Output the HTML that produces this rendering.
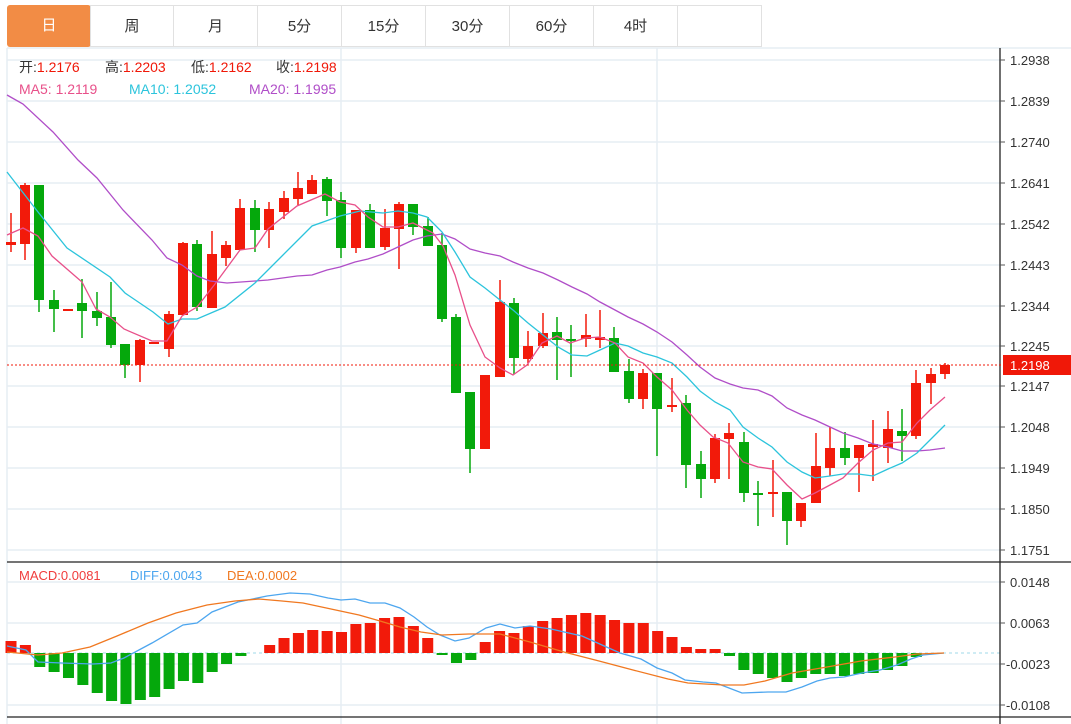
<!DOCTYPE html>
<html><head><meta charset="utf-8"><style>
body{margin:0;background:#fff;width:1071px;height:724px;overflow:hidden;font-family:"Liberation Sans","Noto Sans CJK SC",sans-serif;}
.tabs{position:absolute;left:7px;top:5px;height:42px;}
.tab{position:absolute;top:0;height:42px;width:84px;border:1px solid #e1e1e1;border-left:none;box-sizing:border-box;text-align:center;line-height:42px;font-size:15px;color:#333;}
.tab.on{background:#f28c45;color:#fff;border:none;border-radius:3px;}
</style></head><body>
<div class="tabs">
<div class="tab on" style="left:0">日</div>
<div class="tab" style="left:83px;border-left:1px solid #e1e1e1">周</div>
<div class="tab" style="left:167px">月</div>
<div class="tab" style="left:251px">5分</div>
<div class="tab" style="left:335px">15分</div>
<div class="tab" style="left:419px">30分</div>
<div class="tab" style="left:503px">60分</div>
<div class="tab" style="left:587px">4时</div>
<div class="tab" style="left:671px;width:84px"></div>
</div>
<svg width="1071" height="724" style="position:absolute;left:0;top:0" font-family="Liberation Sans, Noto Sans CJK SC, sans-serif">
<g stroke="#e6edf3" stroke-width="1.5">
<line x1="7" y1="48" x2="1071" y2="48"/>
<line x1="7" y1="60" x2="1000" y2="60"/><line x1="7" y1="101" x2="1000" y2="101"/><line x1="7" y1="142" x2="1000" y2="142"/><line x1="7" y1="183" x2="1000" y2="183"/><line x1="7" y1="224" x2="1000" y2="224"/><line x1="7" y1="265" x2="1000" y2="265"/><line x1="7" y1="306" x2="1000" y2="306"/><line x1="7" y1="346" x2="1000" y2="346"/><line x1="7" y1="386" x2="1000" y2="386"/><line x1="7" y1="427" x2="1000" y2="427"/><line x1="7" y1="468" x2="1000" y2="468"/><line x1="7" y1="509" x2="1000" y2="509"/><line x1="7" y1="550" x2="1000" y2="550"/>
<line x1="7" y1="582" x2="1000" y2="582"/><line x1="7" y1="623" x2="1000" y2="623"/><line x1="7" y1="664" x2="1000" y2="664"/><line x1="7" y1="705" x2="1000" y2="705"/>
<line x1="341" y1="48" x2="341" y2="724"/><line x1="657" y1="48" x2="657" y2="724"/>
<line x1="7" y1="48" x2="7" y2="724"/>
</g>
<line x1="7" y1="653" x2="1000" y2="653" stroke="#9fd8ea" stroke-dasharray="3,3"/>
<g stroke="#222" stroke-width="1.3">
<line x1="1000" y1="48" x2="1000" y2="724"/>
<line x1="7" y1="562" x2="1071" y2="562"/>
<line x1="7" y1="717" x2="1071" y2="717"/>
</g>
<g id="c"></g>
<g font-size="13" fill="#333">
<g stroke="#555"><line x1="1000" x2="1005" y1="60" y2="60"/><line x1="1000" x2="1005" y1="101" y2="101"/><line x1="1000" x2="1005" y1="142" y2="142"/><line x1="1000" x2="1005" y1="183" y2="183"/><line x1="1000" x2="1005" y1="224" y2="224"/><line x1="1000" x2="1005" y1="265" y2="265"/><line x1="1000" x2="1005" y1="306" y2="306"/><line x1="1000" x2="1005" y1="346" y2="346"/><line x1="1000" x2="1005" y1="386" y2="386"/><line x1="1000" x2="1005" y1="427" y2="427"/><line x1="1000" x2="1005" y1="468" y2="468"/><line x1="1000" x2="1005" y1="509" y2="509"/><line x1="1000" x2="1005" y1="550" y2="550"/><line x1="1000" x2="1005" y1="582" y2="582"/><line x1="1000" x2="1005" y1="623" y2="623"/><line x1="1000" x2="1005" y1="664" y2="664"/><line x1="1000" x2="1005" y1="705" y2="705"/></g>
<text x="1010" y="65">1.2938</text><text x="1010" y="106">1.2839</text><text x="1010" y="147">1.2740</text><text x="1010" y="188">1.2641</text><text x="1010" y="229">1.2542</text><text x="1010" y="270">1.2443</text><text x="1010" y="311">1.2344</text><text x="1010" y="351">1.2245</text><text x="1010" y="391">1.2147</text><text x="1010" y="432">1.2048</text><text x="1010" y="473">1.1949</text><text x="1010" y="514">1.1850</text><text x="1010" y="555">1.1751</text>
<text x="1010" y="587">0.0148</text><text x="1010" y="628">0.0063</text><text x="1006" y="669">-0.0023</text><text x="1006" y="710">-0.0108</text>
</g>
<line x1="7" y1="365" x2="1003" y2="365" stroke="#f01808" stroke-dasharray="2,2"/>
<rect x="1003" y="355" width="68" height="20" fill="#f01808"/>
<text x="1010" y="370" font-size="13" fill="#fff">1.2198</text>
<g font-size="14">
<text x="19" y="72" fill="#333">开:<tspan fill="#f01808">1.2176</tspan></text>
<text x="105" y="72" fill="#333">高:<tspan fill="#f01808">1.2203</tspan></text>
<text x="191" y="72" fill="#333">低:<tspan fill="#f01808">1.2162</tspan></text>
<text x="276" y="72" fill="#333">收:<tspan fill="#f01808">1.2198</tspan></text>
<text x="19" y="94" fill="#e8508a">MA5: 1.2119</text>
<text x="129" y="94" fill="#2cc4dc">MA10: 1.2052</text>
<text x="249" y="94" fill="#b04ec8">MA20: 1.1995</text>
</g>
<g font-size="13">
<text x="19" y="580" fill="#f03c3c">MACD:0.0081</text>
<text x="130" y="580" fill="#4da6ef">DIFF:0.0043</text>
<text x="227" y="580" fill="#f07820">DEA:0.0002</text>
</g>
</svg>
<script>
var C=[[11,242,245,213,252,1],[25,185,244,183,260,1],[39,185,300,185,312,0],[54,300,309,290,332,0],[68,309,311,309,311,1],[82,303,311,279,338,0],[97,311,318,292,326,0],[111,317,345,282,348,0],[125,344,365,344,378,0],[140,340,365,339,382,1],[154,342,343,342,343,1],[169,314,349,311,357,1],[183,243,315,242,315,1],[197,244,307,240,311,0],[212,254,308,231,308,1],[226,245,258,241,266,1],[240,208,250,199,250,1],[255,208,230,200,252,0],[269,209,230,202,248,1],[284,198,212,191,219,1],[298,188,199,172,205,1],[312,180,194,175,194,1],[327,179,201,177,216,0],[341,200,248,192,258,0],[356,210,248,210,253,1],[370,210,248,204,248,0],[385,228,247,209,250,1],[399,204,229,202,269,1],[413,204,227,204,235,0],[428,226,246,217,246,0],[442,245,319,233,322,0],[456,317,393,314,393,0],[470,392,449,392,473,0],[485,375,449,375,449,1],[500,302,377,280,377,1],[514,303,358,298,374,0],[528,346,359,331,363,1],[543,333,346,313,348,1],[557,332,340,317,380,0],[571,339,341,325,377,0],[586,335,339,314,347,1],[600,337,340,310,348,1],[614,338,372,327,372,0],[629,371,399,359,403,0],[643,373,399,369,409,1],[657,373,409,373,456,0],[672,405,407,378,412,1],[686,403,465,395,488,0],[701,464,479,451,498,0],[715,438,479,434,483,1],[729,433,439,423,479,1],[744,442,493,432,502,0],[758,493,494,481,526,0],[773,492,494,460,517,1],[787,492,521,492,545,0],[801,503,521,503,527,1],[816,466,503,433,503,1],[830,448,468,427,476,1],[845,448,458,432,465,0],[859,445,458,445,492,1],[873,444,447,420,481,1],[888,429,448,411,463,1],[902,431,436,409,461,0],[916,383,436,370,439,1],[931,374,383,368,404,1],[945,365,374,363,379,1]];
var H=[641,645,667,672,678,685,693,701,704,700,697,689,681,683,672,664,656,653,645,638,633,630,631,632,624,623,618,617,626,638,655,663,660,642,631,633,626,621,618,615,613,615,620,623,623,631,637,647,649,649,656,670,674,678,682,678,674,674,676,674,673,670,666,657,654,653];
var MA5="7,235 23,228 38,236 52,256 82,282 96,309 110,317 124,329 152,341 167,341 182,316 197,307 215,284 240,250 255,248 268,229 297,206 325,194 340,202 355,205 368,217 383,227 398,227 413,223 433,233 443,246 455,275 470,325 485,357 500,368 513,375 527,365 542,343 557,336 570,343 585,338 600,337 615,343 628,357 643,363 657,377 672,390 687,410 700,425 713,437 728,443 743,462 758,467 772,469 787,485 802,499 815,493 830,485 843,478 858,463 873,450 888,443 902,442 917,423 930,410 945,397";
var MA10="7,172 38,212 67,248 110,277 125,293 153,312 168,324 182,319 197,319 225,307 255,283 283,255 312,226 340,216 360,211 383,213 398,211 413,213 427,217 442,232 455,252 470,277 485,288 500,300 513,310 528,323 543,335 558,347 572,355 587,356 600,350 615,343 628,346 643,353 657,357 672,363 687,377 700,391 715,402 730,410 743,427 758,438 772,447 787,462 802,472 815,478 830,476 843,474 858,474 873,476 888,469 902,463 917,453 930,440 945,425";
var MA20="7,95 23,104 53,132 78,160 97,178 123,210 152,240 167,258 182,265 197,276 210,281 227,283 255,281 268,280 297,276 312,275 327,270 340,267 355,262 368,259 383,254 398,247 413,240 427,236 442,234 455,239 470,249 485,253 500,256 513,262 528,268 543,273 558,280 572,287 587,294 600,302 615,310 628,317 643,324 657,332 672,342 687,355 700,367 715,378 730,384 743,388 758,390 772,396 787,408 802,415 815,420 830,427 843,433 858,438 873,444 888,447 902,451 917,451 930,450 945,448";
var DIFF="7,646 26,650 38,662 62,663 93,664 111,663 124,658 152,643 183,625 197,623 212,612 238,602 267,596 290,593 310,594 328,598 341,600 355,599 370,603 385,603 400,608 414,617 427,627 440,635 455,641 469,638 486,628 500,624 515,628 530,626 551,629 582,636 602,645 620,653 641,659 657,668 672,673 685,680 703,682 716,683 729,688 742,693 768,692 786,692 802,687 817,681 830,678 844,677 862,673 880,670 897,665 911,659 923,655 944,653";
var DEA="7,652 38,655 62,653 90,647 117,636 148,623 176,613 207,605 235,601 259,599 282,601 303,603 331,609 359,615 380,621 400,627 421,632 442,635 469,634 500,634 530,642 564,652 599,661 633,670 668,679 688,683 723,685 744,685 765,681 792,673 827,667 861,661 895,657 917,654 944,653";
var s="";
for(var i=0;i<C.length;i++){var c=C[i],col=c[5]?"#f21a0a":"#05a80c";
s+='<line x1="'+c[0]+'" x2="'+c[0]+'" y1="'+c[3]+'" y2="'+c[4]+'" stroke="'+col+'" stroke-width="1.5"/>';
var h=Math.max(2,c[2]-c[1]);s+='<rect x="'+(c[0]-5)+'" y="'+c[1]+'" width="10" height="'+h+'" fill="'+col+'"/>';}
for(i=0;i<H.length;i++){var x=11+14.37*i,y=H[i];if(Math.abs(y-653)<1)continue;var col=y<653?"#f21a0a":"#05a80c";
s+='<rect x="'+(x-5.5)+'" y="'+Math.min(y,653)+'" width="11" height="'+Math.abs(y-653)+'" fill="'+col+'"/>';}
function pl(p,c){return '<polyline points="'+p+'" fill="none" stroke="'+c+'" stroke-width="1.3"/>';}
s+=pl(MA20,"#b04ec8")+pl(MA10,"#2cc4dc")+pl(MA5,"#e8508a")+pl(DIFF,"#4da6ef")+pl(DEA,"#f07820");
document.getElementById("c").innerHTML=s;
</script>
</body></html>
